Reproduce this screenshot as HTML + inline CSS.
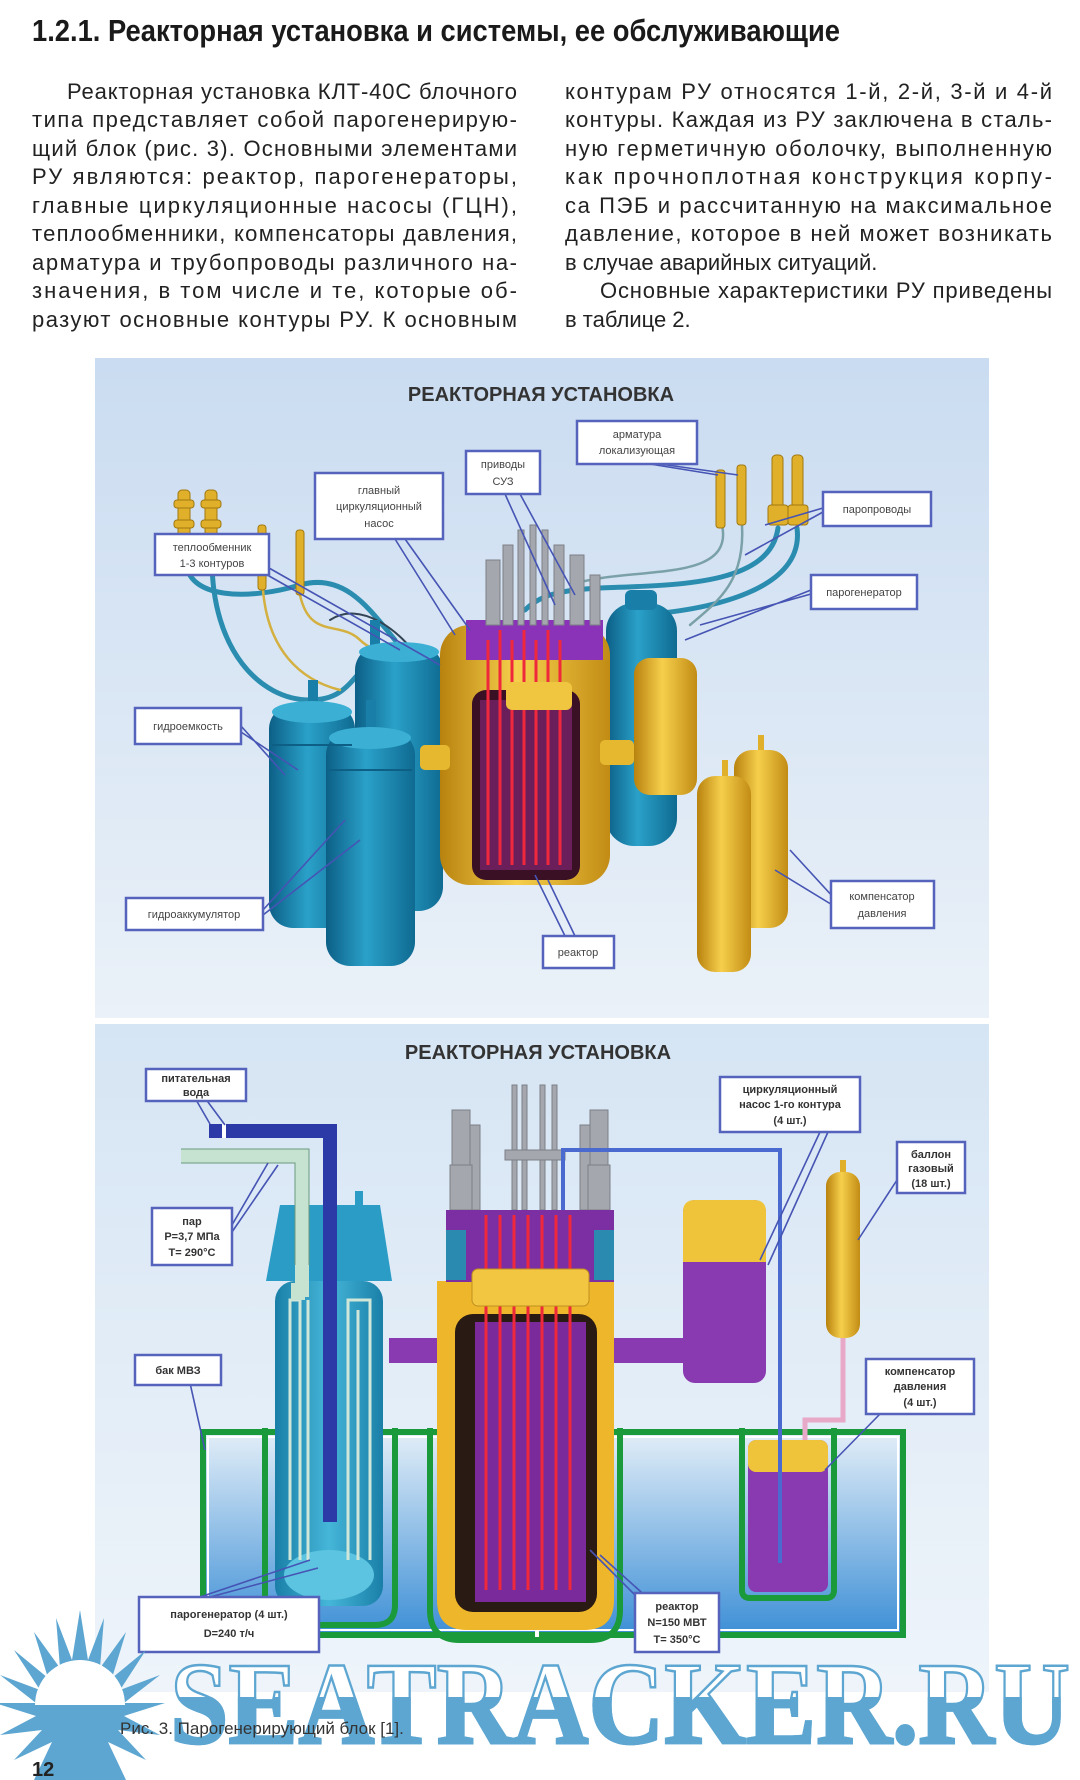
<!DOCTYPE html>
<html><head><meta charset="utf-8"><style>
html,body{margin:0;padding:0;background:#fff;}
svg{display:block;}
.b{font-family:"Liberation Sans",sans-serif;font-size:22px;fill:#222;}
.lb{font-family:"Liberation Sans",sans-serif;font-size:11px;fill:#444;text-anchor:middle;}
.lb2{font-family:"Liberation Sans",sans-serif;font-size:11px;fill:#333;text-anchor:middle;font-weight:bold;}
.box{fill:#fff;stroke:#5563bd;stroke-width:2.5;}
.ld{stroke:#4654b4;stroke-width:1.6;fill:none;}
.wmt{font-family:"Liberation Serif",serif;font-weight:bold;font-size:118px;}
</style></head><body>
<svg width="1080" height="1780" viewBox="0 0 1080 1780" xmlns="http://www.w3.org/2000/svg" font-family="Liberation Sans, sans-serif">
<defs>
<linearGradient id="bg1" x1="0" y1="0" x2="0" y2="1"><stop offset="0" stop-color="#cadcf1"/><stop offset="1" stop-color="#eaf1f8"/></linearGradient>
<linearGradient id="bg2" x1="0" y1="0" x2="0" y2="1"><stop offset="0" stop-color="#d6e5f4"/><stop offset="1" stop-color="#eef4fa"/></linearGradient>
<linearGradient id="teal" x1="0" y1="0" x2="1" y2="0"><stop offset="0" stop-color="#0c5f86"/><stop offset="0.45" stop-color="#2aa1c9"/><stop offset="1" stop-color="#0f6a91"/></linearGradient>
<linearGradient id="yel" x1="0" y1="0" x2="1" y2="0"><stop offset="0" stop-color="#b8820e"/><stop offset="0.45" stop-color="#f6cf4c"/><stop offset="1" stop-color="#c28c14"/></linearGradient>
<linearGradient id="water" x1="0" y1="0" x2="0" y2="1"><stop offset="0" stop-color="#e3eef8"/><stop offset="1" stop-color="#3d8fd6"/></linearGradient>
<linearGradient id="sg" x1="0" y1="0" x2="1" y2="0"><stop offset="0" stop-color="#1a7fa8"/><stop offset="0.5" stop-color="#45b6d8"/><stop offset="1" stop-color="#1a7fa8"/></linearGradient>
<clipPath id="lowhalf"><rect x="0" y="1697" width="1080" height="100"/></clipPath>
</defs>

<text x="32" y="41" font-size="31" font-weight="bold" fill="#1a1a1a" textLength="808" lengthAdjust="spacingAndGlyphs">1.2.1. Реакторная установка и системы, ее обслуживающие</text>

<text class="b" x="67" y="99" textLength="450" lengthAdjust="spacing">Реакторная установка КЛТ-40С блочного</text>
<text class="b" x="32" y="127" textLength="485" lengthAdjust="spacing">типа представляет собой парогенерирую-</text>
<text class="b" x="32" y="156" textLength="485" lengthAdjust="spacing">щий блок (рис. 3). Основными элементами</text>
<text class="b" x="32" y="184" textLength="485" lengthAdjust="spacing">РУ являются: реактор, парогенераторы,</text>
<text class="b" x="32" y="213" textLength="485" lengthAdjust="spacing">главные циркуляционные насосы (ГЦН),</text>
<text class="b" x="32" y="241" textLength="485" lengthAdjust="spacing">теплообменники, компенсаторы давления,</text>
<text class="b" x="32" y="270" textLength="485" lengthAdjust="spacing">арматура и трубопроводы различного на-</text>
<text class="b" x="32" y="298" textLength="485" lengthAdjust="spacing">значения, в том числе и те, которые об-</text>
<text class="b" x="32" y="327" textLength="485" lengthAdjust="spacing">разуют основные контуры РУ. К основным</text>
<text class="b" x="565" y="99" textLength="487" lengthAdjust="spacing">контурам РУ относятся 1-й, 2-й, 3-й и 4-й</text>
<text class="b" x="565" y="127" textLength="487" lengthAdjust="spacing">контуры. Каждая из РУ заключена в сталь-</text>
<text class="b" x="565" y="156" textLength="487" lengthAdjust="spacing">ную герметичную оболочку, выполненную</text>
<text class="b" x="565" y="184" textLength="487" lengthAdjust="spacing">как прочноплотная конструкция корпу-</text>
<text class="b" x="565" y="213" textLength="487" lengthAdjust="spacing">са ПЭБ и рассчитанную на максимальное</text>
<text class="b" x="565" y="241" textLength="487" lengthAdjust="spacing">давление, которое в ней может возникать</text>
<text class="b" x="565" y="270">в случае аварийных ситуаций.</text>
<text class="b" x="600" y="298" textLength="452" lengthAdjust="spacing">Основные характеристики РУ приведены</text>
<text class="b" x="565" y="327">в таблице 2.</text>

<!-- TOP PANEL -->
<rect x="95" y="358" width="894" height="660" fill="url(#bg1)"/>
<text x="541" y="401" font-size="20" font-weight="bold" fill="#333" text-anchor="middle">РЕАКТОРНАЯ УСТАНОВКА</text>

<g fill="none" stroke-linecap="round">
<path d="M186,560 C186,600 250,600 300,585 C345,572 370,610 395,640" stroke="#2a8db0" stroke-width="5"/>
<path d="M212,560 C212,650 260,700 310,700 C335,700 345,690 360,672" stroke="#2a8db0" stroke-width="5"/>
<path d="M263,590 C268,650 300,680 340,690" stroke="#d4b040" stroke-width="2.5"/>
<path d="M300,595 C310,640 340,620 360,640 C380,660 420,650 440,690" stroke="#d4b040" stroke-width="2.5"/>
<path d="M330,620 C360,600 400,630 420,660 C430,680 470,690 490,700" stroke="#345" stroke-width="2"/>
<path d="M778,528 C770,585 680,585 600,588 C560,590 540,595 525,610" stroke="#2a8db0" stroke-width="5"/>
<path d="M797,528 C805,590 710,610 640,615" stroke="#2a8db0" stroke-width="5"/>
<path d="M722,525 C735,585 630,565 570,585" stroke="#7aa0a8" stroke-width="2.5"/>
<path d="M742,525 C745,580 720,600 690,625" stroke="#7aa0a8" stroke-width="2.5"/>
</g>
<g fill="#e0b02a" stroke="#a07810" stroke-width="1">
<rect x="178" y="490" width="12" height="70" rx="4"/><rect x="174" y="500" width="20" height="8" rx="3"/><rect x="174" y="520" width="20" height="8" rx="3"/>
<rect x="205" y="490" width="12" height="70" rx="4"/><rect x="201" y="500" width="20" height="8" rx="3"/><rect x="201" y="520" width="20" height="8" rx="3"/>
<rect x="258" y="525" width="8" height="65" rx="3"/>
<rect x="296" y="530" width="8" height="65" rx="3"/>
<rect x="716" y="470" width="9" height="58" rx="3"/>
<rect x="737" y="465" width="9" height="60" rx="3"/>
<rect x="772" y="455" width="11" height="65" rx="4"/><rect x="768" y="505" width="20" height="20" rx="3"/>
<rect x="792" y="455" width="11" height="65" rx="4"/><rect x="788" y="505" width="20" height="20" rx="3"/>
</g>

<rect x="370" y="620" width="10" height="30" fill="#1a7fa8"/>
<rect x="355" y="646" width="88" height="265" rx="24" fill="url(#teal)"/>
<ellipse cx="399" cy="652" rx="40" ry="10" fill="#3bb0d4"/>
<rect x="308" y="680" width="10" height="30" fill="#1a7fa8"/>
<rect x="269" y="705" width="86" height="223" rx="24" fill="url(#teal)"/>
<ellipse cx="312" cy="712" rx="40" ry="11" fill="#3bb0d4"/>
<rect x="366" y="700" width="10" height="35" fill="#1a7fa8"/>
<rect x="326" y="731" width="89" height="235" rx="24" fill="url(#teal)"/>
<ellipse cx="370" cy="738" rx="41" ry="11" fill="#3bb0d4"/>
<path d="M272,745 H352 M329,770 H412" stroke="#0d5f86" stroke-width="2"/>

<rect x="606" y="603" width="71" height="243" rx="28" fill="url(#teal)"/>
<rect x="625" y="590" width="32" height="20" rx="6" fill="#1a7fa8"/>

<rect x="440" y="625" width="170" height="260" rx="30" fill="url(#yel)"/>
<rect x="420" y="745" width="30" height="25" rx="5" fill="#e6b830"/>
<rect x="600" y="740" width="34" height="25" rx="5" fill="#e6b830"/>
<rect x="466" y="620" width="137" height="40" fill="#8a33b8"/>
<rect x="472" y="690" width="108" height="190" rx="14" fill="#3a1024"/>
<rect x="480" y="700" width="92" height="170" fill="#6a1e5a"/>
<g stroke="#f0283c" stroke-width="3">
<line x1="488" y1="640" x2="488" y2="865"/><line x1="500" y1="630" x2="500" y2="865"/><line x1="512" y1="640" x2="512" y2="865"/><line x1="524" y1="630" x2="524" y2="865"/><line x1="536" y1="640" x2="536" y2="865"/><line x1="548" y1="630" x2="548" y2="865"/><line x1="560" y1="640" x2="560" y2="865"/>
</g>
<rect x="506" y="682" width="66" height="28" rx="6" fill="#f0c640"/>
<g fill="#a4a8ae" stroke="#7c8086" stroke-width="1">
<rect x="486" y="560" width="14" height="65"/><rect x="503" y="545" width="10" height="80"/><rect x="518" y="530" width="6" height="95"/><rect x="530" y="525" width="6" height="100"/><rect x="542" y="530" width="6" height="95"/><rect x="554" y="545" width="10" height="80"/><rect x="570" y="555" width="14" height="70"/><rect x="590" y="575" width="10" height="50"/>
</g>
<rect x="634" y="658" width="63" height="137" rx="16" fill="url(#yel)"/>
<rect x="758" y="735" width="6" height="25" fill="#e0b02a"/>
<rect x="734" y="750" width="54" height="178" rx="18" fill="url(#yel)"/>
<rect x="722" y="760" width="6" height="25" fill="#e0b02a"/>
<rect x="697" y="776" width="54" height="196" rx="18" fill="url(#yel)"/>

<g class="ld">
<path d="M262,572 L400,650 M269,568 L440,665"/>
<path d="M395,539 L455,635 M405,539 L470,630"/>
<path d="M505,494 L555,605 M520,494 L575,595"/>
<path d="M650,464 L718,475 M660,464 L738,475"/>
<path d="M823,508 L765,525 M823,512 L745,555"/>
<path d="M811,590 L685,640 M811,594 L700,625"/>
<path d="M241,726 L285,775 M241,732 L298,770"/>
<path d="M263,910 L345,820 M263,915 L360,840"/>
<path d="M565,936 L535,875 M575,936 L548,880"/>
<path d="M834,898 L790,850 M834,906 L775,870"/>
</g>

<rect class="box" x="577" y="421" width="120" height="43"/>
<text class="lb" x="637" y="438">арматура</text><text class="lb" x="637" y="454">локализующая</text>
<rect class="box" x="466" y="451" width="74" height="43"/>
<text class="lb" x="503" y="468">приводы</text><text class="lb" x="503" y="485">СУЗ</text>
<rect class="box" x="315" y="473" width="128" height="66"/>
<text class="lb" x="379" y="494">главный</text><text class="lb" x="379" y="510">циркуляционный</text><text class="lb" x="379" y="527">насос</text>
<rect class="box" x="155" y="534" width="114" height="41"/>
<text class="lb" x="212" y="551">теплообменник</text><text class="lb" x="212" y="567">1-3 контуров</text>
<rect class="box" x="823" y="492" width="108" height="34"/>
<text class="lb" x="877" y="513">паропроводы</text>
<rect class="box" x="811" y="575" width="106" height="34"/>
<text class="lb" x="864" y="596">парогенератор</text>
<rect class="box" x="135" y="708" width="106" height="36"/>
<text class="lb" x="188" y="730">гидроемкость</text>
<rect class="box" x="126" y="898" width="137" height="32"/>
<text class="lb" x="194" y="918">гидроаккумулятор</text>
<rect class="box" x="543" y="936" width="71" height="32"/>
<text class="lb" x="578" y="956">реактор</text>
<rect class="box" x="831" y="881" width="103" height="47"/>
<text class="lb" x="882" y="900">компенсатор</text><text class="lb" x="882" y="917">давления</text>

<!-- BOTTOM PANEL -->
<rect x="95" y="1024" width="894" height="668" fill="url(#bg2)"/>
<text x="538" y="1059" font-size="20" font-weight="bold" fill="#333" text-anchor="middle">РЕАКТОРНАЯ УСТАНОВКА</text>

<rect x="203" y="1432" width="700" height="203" fill="url(#water)" stroke="#1a9a3a" stroke-width="6"/>
<rect x="208" y="1437" width="690" height="193" fill="none" stroke="#fff" stroke-width="2"/>
<line x1="537" y1="1600" x2="537" y2="1640" stroke="#fff" stroke-width="4"/>

<path d="M266,1281 L280,1205 H380 L392,1281 Z" fill="#2a9cc6"/>
<rect x="300" y="1191" width="8" height="14" fill="#2a9cc6"/><rect x="355" y="1191" width="8" height="14" fill="#2a9cc6"/>
<path d="M265,1428 L265,1605 Q265,1625 285,1625 H375 Q395,1625 395,1605 V1428" fill="none" stroke="#1a9a3a" stroke-width="6"/>
<rect x="275" y="1281" width="108" height="325" rx="20" fill="url(#sg)"/>
<ellipse cx="329" cy="1575" rx="45" ry="25" fill="#5cc4e0"/>
<g fill="none" stroke="#cfe6d8" stroke-width="3">
<path d="M290,1560 V1300 H300 V1560 M308,1560 V1300"/>
<path d="M348,1560 V1300 H370 V1560 M358,1560 V1310"/>
</g>
<path d="M209,1131 H330 V1522" fill="none" stroke="#2c3aa8" stroke-width="14"/>
<rect x="222" y="1124" width="4" height="14" fill="#fff"/>
<path d="M181,1156 H302 V1265 M302,1265 V1290 H298 V1300" fill="none" stroke="#c6e2d0" stroke-width="14"/>
<path d="M181,1149 H309 V1265 M181,1163 H295 V1265" fill="none" stroke="#6a9a80" stroke-width="1"/>

<path d="M430,1428 L430,1610 Q430,1640 460,1640 H590 Q620,1640 620,1610 V1428" fill="none" stroke="#1a9a3a" stroke-width="6"/>
<g fill="#a4a8ae" stroke="#7c8086" stroke-width="1">
<rect x="452" y="1110" width="18" height="55"/><rect x="470" y="1125" width="10" height="85"/><rect x="450" y="1165" width="22" height="45"/>
<rect x="590" y="1110" width="18" height="55"/><rect x="580" y="1125" width="10" height="85"/><rect x="588" y="1165" width="22" height="45"/>
<rect x="512" y="1085" width="5" height="125"/><rect x="522" y="1085" width="5" height="125"/><rect x="540" y="1085" width="5" height="125"/><rect x="552" y="1085" width="5" height="125"/>
<rect x="505" y="1150" width="60" height="10"/>
</g>
<path d="M437,1281 H614 V1600 Q614,1630 584,1630 H467 Q437,1630 437,1600 Z" fill="#eeb62a"/>
<rect x="446" y="1210" width="168" height="72" fill="#7b2fa2"/>
<rect x="446" y="1230" width="20" height="50" fill="#2a8ab0"/><rect x="594" y="1230" width="20" height="50" fill="#2a8ab0"/>
<rect x="455" y="1314" width="142" height="298" rx="18" fill="#2a1a14"/>
<rect x="475" y="1322" width="111" height="280" fill="#7a2a9a"/>
<g stroke="#f0283c" stroke-width="3">
<line x1="486" y1="1215" x2="486" y2="1590"/><line x1="500" y1="1215" x2="500" y2="1590"/><line x1="514" y1="1215" x2="514" y2="1590"/><line x1="528" y1="1215" x2="528" y2="1590"/><line x1="542" y1="1215" x2="542" y2="1590"/><line x1="556" y1="1215" x2="556" y2="1590"/><line x1="570" y1="1215" x2="570" y2="1590"/>
</g>
<rect x="472" y="1269" width="117" height="37" rx="6" fill="#f2c640" stroke="#c09020" stroke-width="1"/>
<rect x="389" y="1338" width="48" height="25" fill="#8a3ab0"/>
<rect x="614" y="1338" width="86" height="25" fill="#8a3ab0"/>
<rect x="683" y="1200" width="83" height="183" rx="12" fill="#8a3ab0"/>
<path d="M683,1212 Q683,1200 695,1200 H754 Q766,1200 766,1212 V1262 H683 Z" fill="#f0c43a"/>
<path d="M563,1210 V1150 H780 V1563" fill="none" stroke="#4a6ad0" stroke-width="4"/>
<rect x="840" y="1160" width="6" height="15" fill="#e0b02a"/>
<rect x="826" y="1172" width="34" height="166" rx="14" fill="url(#yel)"/>
<path d="M843,1338 V1420 H805 V1455" fill="none" stroke="#e8a8c8" stroke-width="5"/>
<path d="M742,1428 V1590 Q742,1598 750,1598 H826 Q834,1598 834,1590 V1428" fill="none" stroke="#1a9a3a" stroke-width="6"/>
<rect x="748" y="1440" width="80" height="152" rx="8" fill="#8a3ab0"/>
<rect x="748" y="1440" width="80" height="32" rx="8" fill="#f0c43a"/>
<line x1="780" y1="1430" x2="780" y2="1563" stroke="#4a6ad0" stroke-width="4"/>

<g class="ld">
<path d="M195,1098 L210,1124 M205,1098 L225,1125"/>
<path d="M232,1225 L268,1163 M232,1232 L278,1165"/>
<path d="M190,1383 L205,1450"/>
<path d="M200,1597 L310,1560 M210,1597 L318,1568"/>
<path d="M640,1600 L590,1550 M650,1600 L600,1555"/>
<path d="M820,1132 L760,1260 M828,1132 L768,1265"/>
<path d="M897,1180 L858,1240"/>
<path d="M880,1414 L825,1470"/>
</g>

<rect class="box" x="146" y="1069" width="100" height="32"/>
<text class="lb2" x="196" y="1082">питательная</text><text class="lb2" x="196" y="1096">вода</text>
<rect class="box" x="152" y="1208" width="80" height="57"/>
<text class="lb2" x="192" y="1225">пар</text><text class="lb2" x="192" y="1240">P=3,7 МПа</text><text class="lb2" x="192" y="1256">T= 290°C</text>
<rect class="box" x="135" y="1355" width="86" height="30"/>
<text class="lb2" x="178" y="1374">бак МВЗ</text>
<rect class="box" x="720" y="1077" width="140" height="55"/>
<text class="lb2" x="790" y="1093">циркуляционный</text><text class="lb2" x="790" y="1108">насос 1-го контура</text><text class="lb2" x="790" y="1124">(4 шт.)</text>
<rect class="box" x="897" y="1142" width="68" height="51"/>
<text class="lb2" x="931" y="1158">баллон</text><text class="lb2" x="931" y="1172">газовый</text><text class="lb2" x="931" y="1187">(18 шт.)</text>
<rect class="box" x="866" y="1359" width="108" height="55"/>
<text class="lb2" x="920" y="1375">компенсатор</text><text class="lb2" x="920" y="1390">давления</text><text class="lb2" x="920" y="1406">(4 шт.)</text>
<rect class="box" x="139" y="1597" width="180" height="55"/>
<text class="lb2" x="229" y="1618">парогенератор (4 шт.)</text><text class="lb2" x="229" y="1637">D=240 т/ч</text>
<rect class="box" x="635" y="1593" width="84" height="59"/>
<text class="lb2" x="677" y="1610">реактор</text><text class="lb2" x="677" y="1626">N=150 МВТ</text><text class="lb2" x="677" y="1643">T= 350°C</text>

<!-- watermark sun -->
<polygon fill="#5da6d1" points="80,1610 88,1660 104,1618 100,1668 126,1632 112,1678 146,1650 120,1690 160,1675 124,1703 165,1703 124,1716 160,1735 118,1730 146,1760 108,1742 126,1780 34,1780 52,1742 14,1760 42,1730 0,1735 36,1716 -5,1703 36,1703 0,1675 40,1690 14,1650 48,1678 34,1632 60,1668 56,1618 72,1660"/>
<path d="M35,1705 A45,45 0 0 1 125,1705 Z" fill="#fff"/>
<path d="M35,1705 A45,45 0 0 0 125,1705 Z" fill="#5da6d1"/>
<text class="wmt" x="170" y="1743" fill="#ffffff" stroke="#5da6d1" stroke-width="2.5" textLength="900" lengthAdjust="spacingAndGlyphs">SEATRACKER.RU</text>
<text class="wmt" x="170" y="1743" fill="#5da6d1" stroke="#5da6d1" stroke-width="2.5" textLength="900" lengthAdjust="spacingAndGlyphs" clip-path="url(#lowhalf)">SEATRACKER.RU</text>

<text x="120" y="1734" font-size="17" fill="#333">Рис. 3. Парогенерирующий блок [1].</text>
<text x="32" y="1776" font-size="20" font-weight="bold" fill="#222">12</text>
</svg>
</body></html>
